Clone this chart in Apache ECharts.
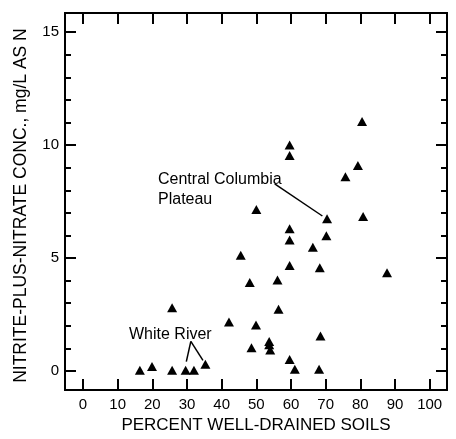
<!DOCTYPE html>
<html>
<head>
<meta charset="UTF-8">
<title>Nitrite-plus-nitrate vs well-drained soils</title>
<script src="https://cdn.jsdelivr.net/npm/echarts@6.0.0/dist/echarts.min.js"></script>
<style>
  html, body { margin: 0; padding: 0; background: #fff; }
  #chart { width: 456px; height: 439px; }
</style>
</head>
<body>
<div id="chart"></div>
<script>
// percent well-drained soils (x) and nitrite-plus-nitrate concentration (y)
const pctSoils = [16.4, 19.9, 25.7, 25.7, 29.6, 32.0, 35.3, 42.1, 45.5, 48.1, 48.6, 50.0,
                  49.9, 53.7, 53.7, 54.0, 56.1, 56.4, 59.6, 59.6, 59.6, 59.6, 59.6, 59.6,
                  61.1, 66.3, 68.3, 68.5, 68.1, 70.2, 70.4, 75.7, 79.3, 80.5, 80.8, 87.7];
const concN    = [0.03, 0.19, 2.8, 0.03, 0.03, 0.03, 0.29, 2.17, 5.12, 3.91, 1.02, 7.15,
                  2.03, 1.30, 1.16, 0.93, 4.03, 2.73, 10.0, 9.54, 6.30, 5.80, 4.67, 0.51,
                  0.07, 5.48, 4.57, 1.55, 0.07, 5.99, 6.74, 8.6, 9.10, 11.04, 6.84, 4.35];

const xTicks = [0, 10, 20, 30, 40, 50, 60, 70, 80, 90, 100];
const yMajor = [0, 5, 10, 15];
const yMinor = [1, 2, 3, 4, 6, 7, 8, 9, 11, 12, 13, 14];

// leader lines of the annotations, in data units
const columbiaLeader = [[55.3, 8.28], [69.05, 6.86]];
const whiteLeaderA = [[31.1, 1.31], [29.8, 0.41]];
const whiteLeaderB = [[31.1, 1.31], [34.6, 0.47]];

const FONT = '"Liberation Sans", Arial, Helvetica, sans-serif';
const X_MIN = -5.2, X_MAX = 105, Y_MIN = -0.85, Y_MAX = 15.85;

const line = {show: true, onZero: false, lineStyle: {color: '#000', width: 2}};

function xAxis(pos, labels) {
    return {
        type: 'value', position: pos, min: X_MIN, max: X_MAX,
        axisLine: line,
        axisTick: {show: true, inside: true, length: 11, customValues: xTicks,
                   lineStyle: {color: '#000', width: 2}},
        axisLabel: {show: labels, customValues: xTicks, margin: 7,
                    color: '#000', fontSize: 15, fontFamily: FONT},
        splitLine: {show: false}
    };
}
function yAxis(pos, ticks, len, labels) {
    return {
        type: 'value', position: pos, min: Y_MIN, max: Y_MAX,
        axisLine: line,
        axisTick: {show: true, inside: true, length: len, customValues: ticks,
                   lineStyle: {color: '#000', width: 2}},
        axisLabel: {show: labels, customValues: ticks, margin: 6,
                    color: '#000', fontSize: 15, fontFamily: FONT},
        splitLine: {show: false}
    };
}

const xa = [xAxis('bottom', true), xAxis('top', false)];
Object.assign(xa[0], {
    name: 'PERCENT WELL-DRAINED SOILS', nameLocation: 'middle', nameGap: 24,
    nameTextStyle: {color: '#000', fontSize: 17, fontFamily: FONT}
});
const ya = [yAxis('left', yMajor, 11, true), yAxis('left', yMinor, 6, false),
            yAxis('right', yMajor, 11, false), yAxis('right', yMinor, 6, false)];
Object.assign(ya[0], {
    name: 'NITRITE-PLUS-NITRATE CONC., mg/L AS N', nameLocation: 'middle', nameGap: 35,
    nameTextStyle: {color: '#000', fontSize: 17.5, fontFamily: FONT, padding: [0, 8, 0, 0]}
});

const chart = echarts.init(document.getElementById('chart'), null, {renderer: 'canvas'});
chart.setOption({
    animation: false,
    backgroundColor: '#fff',
    grid: {left: 65, right: 9, top: 13, bottom: 43},
    xAxis: xa,
    yAxis: ya,
    series: [{
        type: 'scatter',
        xAxisIndex: 0, yAxisIndex: 0,
        symbol: 'triangle',
        symbolSize: [10, 9],
        itemStyle: {color: '#000', opacity: 1},
        data: pctSoils.map((p, i) => [p, concN[i]]),
        markLine: {
            silent: true,
            symbol: ['none', 'none'],
            label: {show: false},
            lineStyle: {color: '#000', width: 1.5, type: 'solid', opacity: 1},
            data: [columbiaLeader, whiteLeaderA, whiteLeaderB].map(s =>
                [{coord: s[0]}, {coord: s[1]}])
        }
    }],
    graphic: [
        {type: 'text', left: 158, top: 170,
         style: {text: 'Central Columbia\nPlateau', fill: '#000', fontSize: 16,
                 lineHeight: 20, fontFamily: FONT}},
        {type: 'text', left: 129, top: 327,
         style: {text: 'White River', fill: '#000', fontSize: 16, fontFamily: FONT}}
    ]
});
</script>
</body>
</html>
